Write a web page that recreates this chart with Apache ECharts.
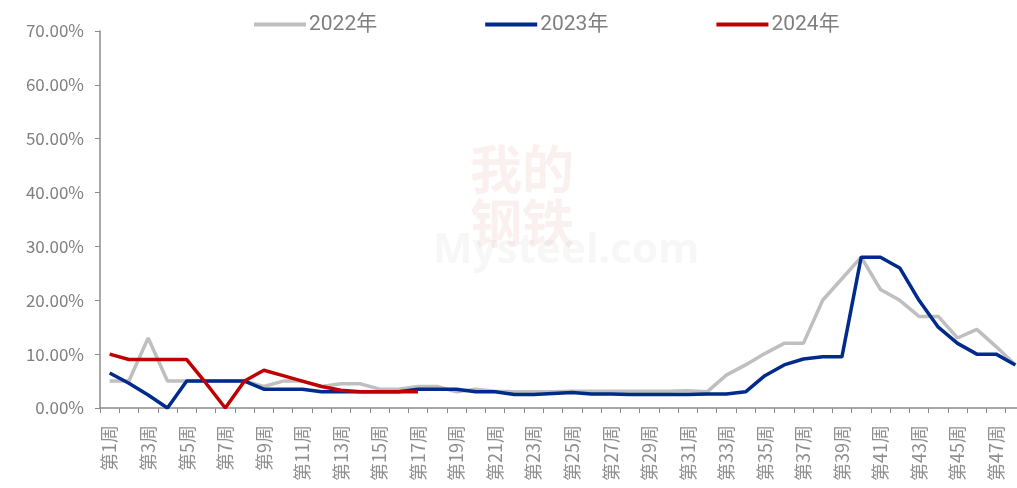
<!DOCTYPE html>
<html>
<head>
<meta charset="utf-8">
<script src="https://cdn.jsdelivr.net/npm/echarts@6/dist/echarts.min.js"></script>
<style>
  html, body { margin: 0; padding: 0; background: #fff; }
  #chart { width: 1017px; height: 488px; }
</style>
</head>
<body>
<div id="chart"></div>
<script>
const weeks = Array.from({ length: 48 }, (_, i) => `第${i + 1}周`);

const y2022 = [
    5, 5, 13, 5, 5, 5, 5, 5, 4, 5,
    5, 4, 4.5, 4.5, 3.5, 3.5, 4, 4, 3, 3.5,
    3.1, 3, 3, 3, 3.1, 3.1, 3.1, 3.1, 3.1, 3.1,
    3.2, 3, 6.1, 8, 10.1, 12, 12, 20, 24, 28,
    22, 20, 17, 17, 13, 14.6, 11.4, 8
];
const y2023 = [
    6.5, 4.6, 2.4, 0, 5, 5, 5, 5, 3.5, 3.5,
    3.5, 3, 3, 3, 3, 3, 3.5, 3.5, 3.5, 3,
    3, 2.5, 2.5, 2.7, 2.9, 2.6, 2.6, 2.5, 2.5, 2.5,
    2.5, 2.6, 2.6, 3, 6, 8, 9.1, 9.5, 9.5, 28,
    28, 26, 20, 15, 12, 10, 10, 8
];
const y2024 = [
    10, 9, 9, 9, 9, 4.6, 0, 5, 7, 6,
    5, 4, 3.3, 3, 3, 3, 3
];

const SERIES = [
    { name: '2022年', data: y2022, color: '#BFBFBF' },
    { name: '2023年', data: y2023, color: '#002A8C' },
    { name: '2024年', data: y2024, color: '#C00000' },
];

const chart = echarts.init(document.getElementById('chart'), null, { renderer: 'canvas' });

const AXIS_GREY = '#8c8c8c';
const TEXT_GREY = '#7f7f7f';

chart.setOption({
    animation: false,
    backgroundColor: '#fff',
    textStyle: { fontFamily: '"Noto Sans CJK SC", "Noto Sans", sans-serif' },
    graphic: [
        {
            type: 'text', left: 470, top: 142, z: 0,
            style: { text: '我的\n钢铁', fill: 'rgba(200,40,40,0.07)', font: 'bold 52px "Noto Sans CJK SC"', lineHeight: 54 }
        },
        {
            type: 'text', left: 433, top: 230, z: 0,
            style: { text: 'Mysteel.com', fill: 'rgba(150,150,150,0.08)', font: 'bold 42px "Noto Sans"' }
        }
    ],
    legend: {
        top: 9,
        left: 249,
        itemGap: 108,
        itemWidth: 52,
        itemHeight: 4,
        icon: 'rect',
        textStyle: { color: TEXT_GREY, fontSize: 21, padding: [0, 0, 0, -2], fontFamily: 'Roboto, "Noto Sans CJK SC"' },
        data: SERIES.map(s => ({ name: s.name, itemStyle: { color: s.color } }))
    },
    // the last week runs slightly past the right edge, as in the source picture
    grid: { left: 100, width: 925, top: 31, bottom: 80, containLabel: false, outerBoundsMode: 'none' },
    xAxis: {
        type: 'category',
        data: weeks,
        boundaryGap: true,
        axisLine: { lineStyle: { color: AXIS_GREY, width: 1.5 } },
        axisTick: { show: true, interval: 0, length: 5, lineStyle: { color: AXIS_GREY } },
        axisLabel: {
            interval: 1,
            rotate: 90,
            color: '#8f8f8f',
            fontSize: 18,
            margin: 17
        }
    },
    yAxis: {
        type: 'value',
        min: 0,
        max: 70,
        interval: 10,
        splitLine: { show: false },
        axisLine: { show: true, lineStyle: { color: AXIS_GREY, width: 1.5 } },
        axisTick: { show: true, inside: false, length: 5, lineStyle: { color: AXIS_GREY } },
        axisLabel: {
            color: TEXT_GREY,
            fontSize: 17,
            margin: 16,
            formatter: v => v.toFixed(2) + '%'
        }
    },
    series: SERIES.map(s => ({
        name: s.name,
        type: 'line',
        data: s.data,
        symbol: 'none',
        smooth: false,
        lineStyle: { color: s.color, width: 3.5 },
        itemStyle: { color: s.color }
    }))
});
</script>
</body>
</html>
